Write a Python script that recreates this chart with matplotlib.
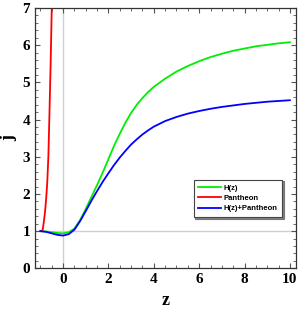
import matplotlib
matplotlib.use("Agg")
import matplotlib.pyplot as plt
from matplotlib.ticker import MultipleLocator

# j(z)
z_h = [-1, -0.75, -0.5, -0.25, 0, 0.25, 0.5, 0.75, 1, 1.25, 1.5, 1.75, 2, 2.25, 2.5, 2.75,
       3, 3.25, 3.5, 3.75, 4, 4.5, 5, 5.5, 6, 6.5, 7, 7.5, 8, 8.5, 9, 9.5, 10]
j_h = [1.0, 0.99, 0.97, 0.95, 0.94, 0.97, 1.07, 1.3, 1.6, 1.92, 2.24, 2.58, 2.94, 3.3, 3.62, 3.92,
       4.18, 4.4, 4.58, 4.74, 4.88, 5.1, 5.29, 5.44, 5.57, 5.68, 5.77, 5.85, 5.91, 5.97, 6.01, 6.05, 6.08]

z_p = [-1, -0.95, -0.9, -0.85, -0.8, -0.75, -0.7, -0.65, -0.6, -0.55, -0.5, -0.47]
j_p = [1.0, 1.0, 1.04, 1.25, 1.5, 1.85, 2.3, 3.0, 4.2, 5.5, 7.0, 7.8]

z_hp = [-1, -0.75, -0.5, -0.25, 0, 0.25, 0.5, 0.75, 1, 1.25, 1.5, 1.75, 2, 2.25, 2.5, 2.75,
        3, 3.25, 3.5, 3.75, 4, 4.5, 5, 5.5, 6, 6.5, 7, 7.5, 8, 8.5, 9, 9.5, 10]
j_hp = [1.0, 0.98, 0.94, 0.9, 0.88, 0.92, 1.04, 1.27, 1.54, 1.82, 2.08, 2.33, 2.56, 2.78, 2.98, 3.16,
        3.33, 3.47, 3.6, 3.71, 3.81, 3.96, 4.07, 4.16, 4.23, 4.29, 4.34, 4.38, 4.42, 4.45, 4.48, 4.5, 4.52]

fig = plt.figure(figsize=(2.99, 3.14), dpi=100)
ax = fig.add_axes([0.117, 0.1455, 0.873, 0.829])

ax.axvline(0, color="#d0d0d0", lw=1, zorder=0)
ax.axhline(1, color="#d0d0d0", lw=1, zorder=0)

ax.plot(z_h, j_h, color="#00ee00", lw=1.3, label="H(z)")
ax.plot(z_p, j_p, color="#ff0000", lw=1.3, label="Pantheon")
ax.plot(z_hp, j_hp, color="#0000ff", lw=1.3, label="H(z)+Pantheon")

ax.set_xlim(-1.24, 10.27)
ax.set_ylim(0, 7)
ax.xaxis.set_major_locator(MultipleLocator(2))
ax.xaxis.set_minor_locator(MultipleLocator(0.5))
ax.yaxis.set_major_locator(MultipleLocator(1))
ax.yaxis.set_minor_locator(MultipleLocator(0.2))
ax.tick_params(which="both", direction="in", top=True, right=True, color="#555555")
ax.tick_params(which="major", length=3.5, width=0.8)
ax.tick_params(which="minor", length=2, width=0.6)
for lab in ax.get_xticklabels() + ax.get_yticklabels():
    lab.set_family("Liberation Serif")
    lab.set_fontweight("bold")
    lab.set_fontsize(11)
for s in ax.spines.values():
    s.set_color("#333333")
    s.set_linewidth(0.9)

ax.set_xlabel("z", family="Liberation Serif", fontweight="bold", fontsize=13)
ax.set_ylabel("j", family="Liberation Serif", fontweight="bold", fontsize=13)

leg = ax.legend(loc="lower right", bbox_to_anchor=(0.946, 0.197), borderaxespad=0,
                fancybox=False, shadow={"ox": 1.2, "oy": -1.2, "color": "#666666", "alpha": 0.8},
                edgecolor="#444444", handlelength=3.0, labelspacing=0.4, borderpad=0.6,
                handletextpad=0.3,
                prop={"family": "Liberation Sans", "weight": "bold", "size": 5.5})
leg.get_frame().set_linewidth(0.8)

fig.savefig("out.png", dpi=100)
